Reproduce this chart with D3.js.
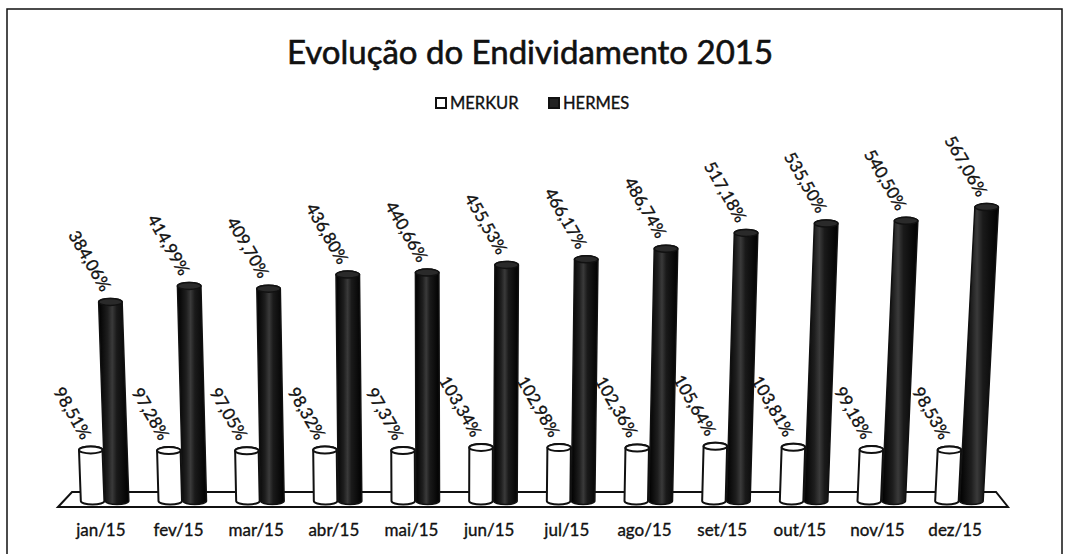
<!DOCTYPE html>
<html>
<head>
<meta charset="utf-8">
<script src="https://cdn.jsdelivr.net/npm/d3@7"></script>
<style>
  html, body { margin: 0; padding: 0; background: #fff; }
  svg { display: block; }
  text { font-family: Lato, "Open Sans", sans-serif; fill: #111; stroke: #111; stroke-width: 0.35px; }
</style>
</head>
<body>
<svg id="chart" width="1069" height="554"></svg>
<script>
const months = ["jan/15","fev/15","mar/15","abr/15","mai/15","jun/15","jul/15","ago/15","set/15","out/15","nov/15","dez/15"];
const seriesNames = ["MERKUR","HERMES"];
const merkur = [98.51, 97.28, 97.05, 98.32, 97.37, 103.34, 102.98, 102.36, 105.64, 103.81, 99.18, 98.53];
const hermes = [384.06, 414.99, 409.70, 436.80, 440.66, 455.53, 466.17, 486.74, 517.18, 535.50, 540.50, 567.06];
const titleText = "Evolução do Endividamento 2015";

const W = 1069, H = 554;
const svg = d3.select("#chart");

// gradient for dark cylinders
const defs = svg.append("defs");
const g1 = defs.append("linearGradient").attr("id","darkCyl").attr("x1","0").attr("x2","1").attr("y1","0").attr("y2","0");
[[0,"#000"],[0.3,"#1e1e1e"],[0.45,"#3a3a3a"],[0.6,"#1a1a1a"],[1,"#000"]].forEach(([o,c]) =>
  g1.append("stop").attr("offset", o).attr("stop-color", c));

svg.append("rect").attr("width", W).attr("height", H).attr("fill", "#fff");
// frame
svg.append("rect").attr("x", 7).attr("y", 9).attr("width", 1055).attr("height", 570)
  .attr("fill", "none").attr("stroke", "#111").attr("stroke-width", 1.5);

// title
svg.append("text").attr("x", 530).attr("y", 64).attr("text-anchor", "middle")
  .style("font-size", "33px").style("stroke-width", "0.6px").text(titleText);

// legend
const legend = svg.append("g").attr("transform", "translate(436,98)");
const legendItems = [
  { name: seriesNames[0], x: 0, fill: "#fff" },
  { name: seriesNames[1], x: 113, fill: "#222" }
];
legendItems.forEach(it => {
  legend.append("rect").attr("x", it.x).attr("y", 0).attr("width", 10).attr("height", 10)
    .attr("fill", it.fill).attr("stroke", "#111").attr("stroke-width", 2);
  legend.append("text").attr("x", it.x + 14).attr("y", 10.5).style("font-size", "16.5px").text(it.name);
});

// scales
const x0 = d3.scaleBand().domain(months).range([66, 998]);
const bw = x0.bandwidth();
const x1 = d3.scaleBand().domain(seriesNames).range([bw/2 - 24, bw/2 + 24]).paddingInner(0.04);
const y = d3.scaleLinear().domain([0, 600]).range([501, 190]);

// floor
const [r0, r1] = x0.range();
const floorFront = 507, floorBack = 492;
svg.append("path")
  .attr("d", `M${r0-8},${floorFront} L${r0+6},${floorBack} L${r1-2},${floorBack} L${r1+10},${floorFront} Z`)
  .attr("fill", "#fff").attr("stroke", "#111").attr("stroke-width", 2);

// cylinders
const cw = x1.bandwidth();
const ry = 3.5;
function lean(cx, h) { return (cx - 453) * h * 1.0e-4; }

const data = [];
months.forEach((m, i) => {
  data.push({ m, s: "MERKUR", v: merkur[i] });
  data.push({ m, s: "HERMES", v: hermes[i] });
});

const bars = svg.append("g");
data.forEach(d => {
  const cx = x0(d.m) + x1(d.s) + cw/2;
  const yb = y(0), yt = y(d.v);
  const L = lean(cx, yb - yt);
  const r = cw/2;
  const path = `M${cx-r},${yb} L${cx-r+L},${yt} A${r},${ry} 0 0 1 ${cx+r+L},${yt} L${cx+r},${yb} A${r},${ry} 0 0 1 ${cx-r},${yb} Z`;
  const dark = d.s === "HERMES";
  bars.append("path").attr("d", path)
    .attr("fill", dark ? "url(#darkCyl)" : "#fff")
    .attr("stroke", "#111").attr("stroke-width", dark ? 1.5 : 2);
  bars.append("ellipse").attr("cx", cx + L).attr("cy", yt).attr("rx", r).attr("ry", ry)
    .attr("fill", dark ? "#2a2a2a" : "#fff").attr("stroke", "#111").attr("stroke-width", dark ? 1.5 : 2);
  // label
  bars.append("text")
    .attr("transform", `translate(${cx + L - 4},${yt - 12}) rotate(60)`)
    .attr("text-anchor", "end").attr("dy", "0.35em")
    .style("font-size", "17px")
    .text(d3.format(".2f")(d.v).replace(".", ",") + "%");
});

// x axis labels
const axis = svg.append("g").attr("transform", "translate(0,522)")
  .call(d3.axisBottom(x0).tickSize(0).tickPadding(2));
axis.select(".domain").remove();
axis.selectAll("text").style("font-size", "17px").style("font-family", "Lato, 'Open Sans', sans-serif")
  .attr("fill", "#111").attr("dx", "-4");
</script>
</body>
</html>
